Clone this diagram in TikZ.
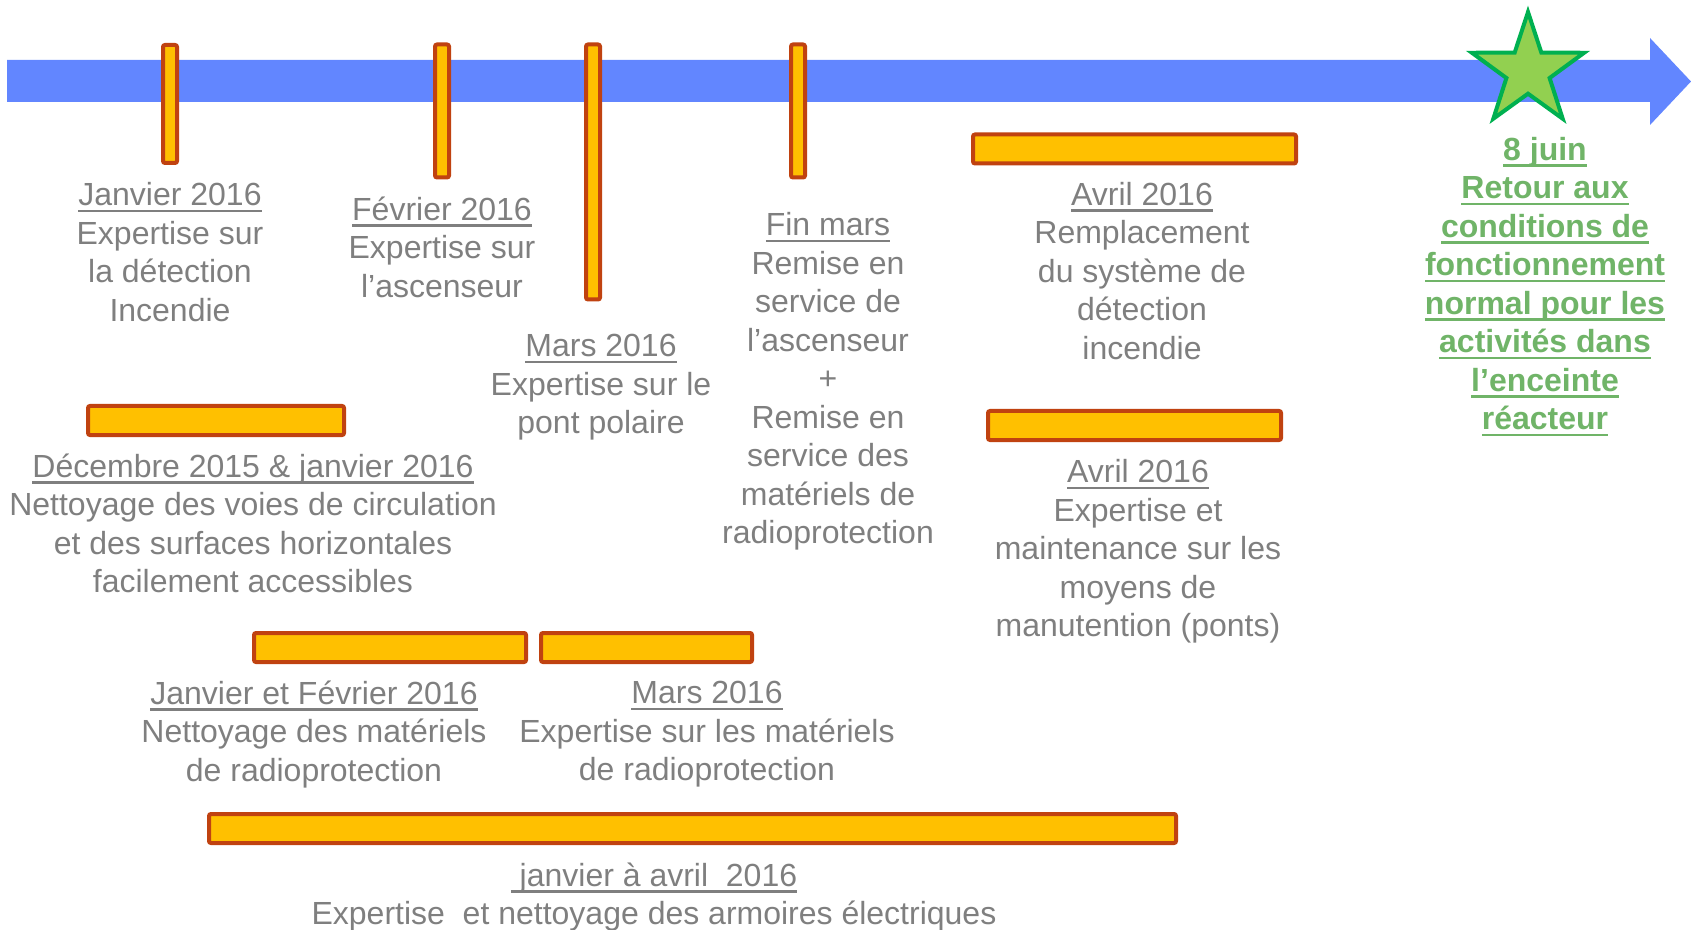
\documentclass[tikz,border=0pt]{standalone}
\usepackage{fontspec}
\setmainfont{Liberation Sans}
\usepackage{xcolor}
\usetikzlibrary{shapes.geometric, positioning}
\definecolor{timeblue}{RGB}{98,134,255}
\definecolor{baryellow}{RGB}{255,192,0}
\definecolor{barred}{RGB}{192,66,16}
\definecolor{graytext}{RGB}{127,127,127}
\definecolor{goalgreen}{RGB}{112,180,104}
\definecolor{stargreen}{RGB}{0,176,80}
\definecolor{starlight}{RGB}{146,208,80}
\newsavebox{\ulbox}
\newcommand{\souligne}[1]{\sbox{\ulbox}{#1}\rlap{\rule[-3.2pt]{\wd\ulbox}{1.2pt}}\usebox{\ulbox}}
\tikzstyle{timeline} = [fill=timeblue]
\tikzstyle{bar} = [rectangle, draw=barred, fill=baryellow, line width=2pt, rounded corners=1pt, inner sep=0pt]
\tikzstyle{vbar} = [bar, minimum width=7pt]
\tikzstyle{hbar} = [bar, minimum height=14.5pt]
\tikzstyle{goalstar} = [star, star points=5, star point ratio=2.6, minimum size=59pt, inner sep=0pt, draw=stargreen, fill=starlight, line width=2pt]
\tikzstyle{infotext} = [align=center, text=graytext, font=\fontsize{16}{19.25}\selectfont, inner sep=0pt]
\tikzstyle{goaltext} = [infotext, text=goalgreen, font=\fontsize{16}{19.25}\selectfont\bfseries]

\begin{document}
\begin{tikzpicture}[x=0.5pt, y=-0.5pt, node distance=50pt]
    \useasboundingbox (0,0) rectangle (1691,930);

        % Timeline
        \fill [timeline] (7,60) -- (1650,60) -- (1650,38) -- (1691,81.5) -- (1650,125) -- (1650,102) -- (7,102) -- cycle;

        % Bars
        \node (barjan) [vbar, minimum height=59pt] at (170,104) {};
        \node (barfev) [vbar, minimum height=66.5pt] at (442,111) {};
        \node (barmars) [vbar, minimum height=127.5pt] at (593,172) {};
        \node (barfin) [vbar, minimum height=66.5pt] at (798,111) {};
        \node (baravrdet) [hbar, minimum width=161.5pt] at (1134.5,149) {};
        \node (baravrpont) [hbar, minimum width=146.5pt] at (1134.5,425.5) {};
        \node (bardec) [hbar, minimum width=128pt] at (216,420.5) {};
        \node (barjf) [hbar, minimum width=136pt] at (390,647.5) {};
        \node (barmarsmat) [hbar, minimum width=105.5pt] at (646.5,647.5) {};
        \node (barelec) [hbar, minimum width=483.5pt] at (692.5,828.5) {};
        \node (goal) [goalstar] at (1528,71) {};

        % Texts
        \node (txtjan) [infotext, below of=barjan, yshift=-24pt] {\souligne{Janvier 2016}\\Expertise sur\\la détection\\Incendie};
        \node (txtfev) [infotext, below of=barfev, yshift=-18pt] {\souligne{Février 2016}\\Expertise sur\\l’ascenseur};
        \node (txtmars) [infotext, below of=barmars, xshift=4pt, yshift=-57.7pt] {\souligne{Mars 2016}\\Expertise sur le\\pont polaire};
        \node (txtfin) [infotext, below of=barfin, xshift=15pt, yshift=-85.2pt] {\souligne{Fin mars}\\Remise en\\service de\\l’ascenseur\\+\\Remise en\\service des\\matériels de\\radioprotection};
        \node (txtavrdet) [infotext, below of=baravrdet, xshift=3.75pt, yshift=-11pt] {\souligne{Avril 2016}\\Remplacement\\du système de\\détection\\incendie};
        \node (txtavrpont) [infotext, below of=baravrpont, xshift=1.75pt, yshift=-12.95pt] {\souligne{Avril 2016}\\Expertise et\\maintenance sur les\\moyens de\\manutention (ponts)};
        \node (txtdec) [infotext, below of=bardec, xshift=18.5pt, yshift=-1.5pt] {\souligne{Décembre 2015 \& janvier 2016}\\Nettoyage des voies de circulation\\et des surfaces horizontales\\facilement accessibles};
        \node (txtjf) [infotext, below of=barjf, xshift=-38pt, yshift=6.55pt] {\souligne{Janvier et Février 2016}\\Nettoyage des matériels\\de radioprotection};
        \node (txtmarsmat) [infotext, below of=barmarsmat, xshift=30.25pt, yshift=6.55pt] {\souligne{Mars 2016}\\Expertise sur les matériels\\de radioprotection};
        \node (txtelec) [infotext, below of=barelec, xshift=-19.25pt, yshift=15.8pt] {\souligne{\ janvier à avril\ \ 2016}\\Expertise\ \ et nettoyage des armoires électriques};
        \node (txtgoal) [goaltext, below of=goal, xshift=8.5pt, yshift=-57.85pt] {\souligne{8 juin}\\\souligne{Retour aux}\\\souligne{conditions de}\\\souligne{fonctionnement}\\\souligne{normal pour les}\\\souligne{activités dans}\\\souligne{l’enceinte}\\\souligne{réacteur}};

    \end{tikzpicture}
\end{document}
